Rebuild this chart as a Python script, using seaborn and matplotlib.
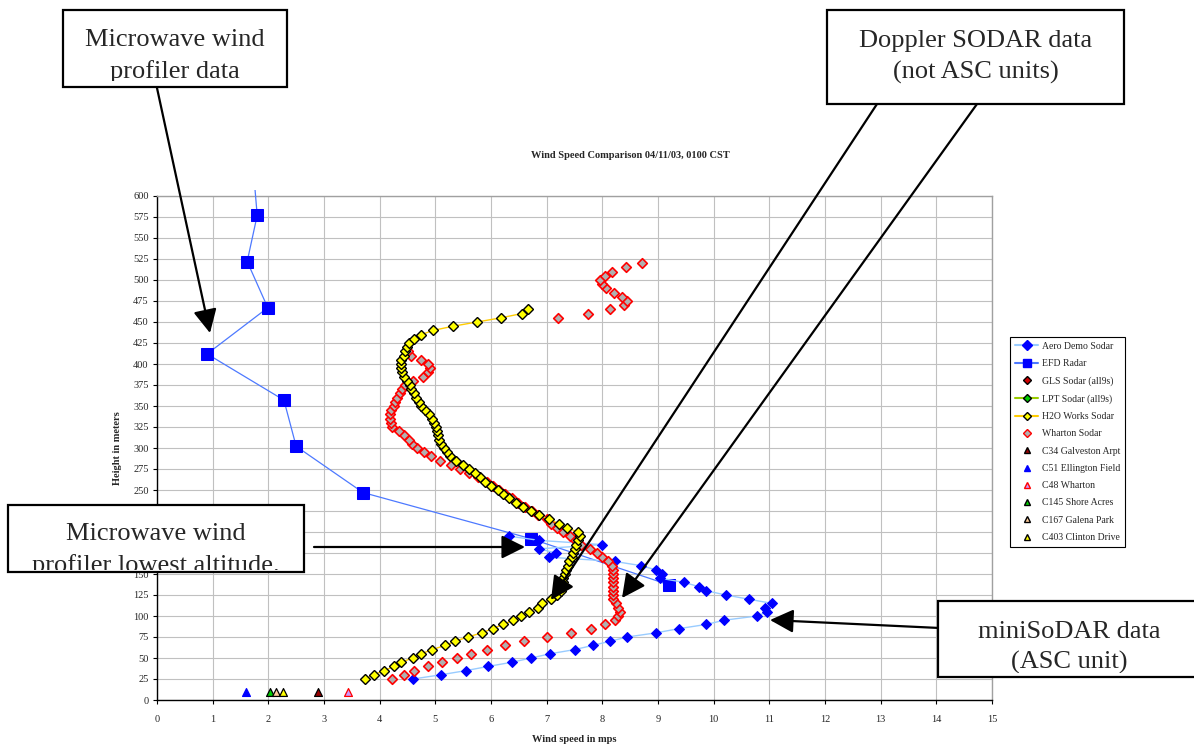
import seaborn as sns
import matplotlib.pyplot as plt
from matplotlib.lines import Line2D
from matplotlib.patches import Rectangle, FancyArrowPatch
from matplotlib.transforms import Bbox, TransformedBbox

W, H = 1194, 744

# Aero Demo Sodar (miniSoDAR, ASC unit)
aero_height = list(range(25, 200, 5))
aero_speed = [4.60, 5.10, 5.55, 5.95, 6.38, 6.72, 7.06, 7.50, 7.83, 8.14,
              8.45, 8.97, 9.38, 9.87, 10.19, 10.78, 10.96, 10.92, 11.05, 10.63,
              10.22, 9.87, 9.73, 9.47, 9.04, 9.08, 8.96, 8.69, 8.22, 7.04,
              7.16, 6.87, 8.00, 6.87, 6.33]

# EFD Radar (microwave wind profiler)
efd_height = [137, 192, 247, 302, 357, 412, 467, 522, 577, 632]
efd_speed = [9.20, 6.72, 3.70, 2.50, 2.28, 0.90, 1.99, 1.62, 1.80, 1.73]

# H2O Works Sodar
h2o_height = list(range(25, 470, 5))
h2o_speed = [3.74, 3.89, 4.08, 4.26, 4.39, 4.59, 4.75, 4.94, 5.18, 5.36,
             5.58, 5.84, 6.03, 6.22, 6.40, 6.54, 6.68, 6.84, 6.92, 7.07,
             7.18, 7.26, 7.28, 7.29, 7.30, 7.33, 7.35, 7.38, 7.41, 7.45,
             7.47, 7.50, 7.53, 7.57, 7.59, 7.56, 7.37, 7.22, 7.04, 6.87,
             6.72, 6.57, 6.45, 6.33, 6.22, 6.12, 6.00, 5.90, 5.81, 5.71,
             5.60, 5.50, 5.38, 5.27, 5.21, 5.15, 5.10, 5.07, 5.05, 5.03,
             5.01, 4.98, 4.94, 4.88, 4.81, 4.75, 4.71, 4.65, 4.62, 4.57,
             4.54, 4.49, 4.43, 4.41, 4.39, 4.38, 4.38, 4.43, 4.45, 4.49,
             4.53, 4.62, 4.75, 4.96, 5.32, 5.75, 6.18, 6.55, 6.66]

# Wharton Sodar
wharton_height = list(range(25, 420, 5)) + list(range(455, 525, 5))
wharton_speed = [4.23, 4.44, 4.61, 4.86, 5.12, 5.39, 5.64, 5.92, 6.26, 6.60,
                 7.00, 7.43, 7.79, 8.05, 8.22, 8.29, 8.32, 8.28, 8.24, 8.20,
                 8.19, 8.20, 8.20, 8.20, 8.20, 8.20, 8.19, 8.18, 8.11, 8.00,
                 7.90, 7.78, 7.62, 7.51, 7.42, 7.30, 7.18, 7.08, 7.00, 6.85,
                 6.74, 6.61, 6.49, 6.37, 6.25, 6.15, 6.04, 5.92, 5.77, 5.60,
                 5.44, 5.28, 5.08, 4.93, 4.79, 4.67, 4.58, 4.52, 4.43, 4.34,
                 4.23, 4.20, 4.19, 4.19, 4.21, 4.25, 4.28, 4.32, 4.36, 4.41,
                 4.45, 4.60, 4.77, 4.87, 4.91, 4.87, 4.74, 4.56, 4.50,
                 7.20, 7.74, 8.14, 8.39, 8.45, 8.36, 8.21, 8.07, 7.99, 7.96,
                 8.04, 8.17, 8.42, 8.71]

# surface stations (10 m)
station_names = ['C34 Galveston Arpt', 'C51 Ellington Field', 'C48 Wharton',
                 'C145 Shore Acres', 'C167 Galena Park', 'C403 Clinton Drive']
station_speed = [2.89, 1.60, 3.43, 2.03, 2.13, 2.27]
station_height = [10, 10, 10, 10, 10, 10]
station_face = ['#990000', '#0000FF', '#CC99FF', '#00CC00', '#FFCC99', '#FFFF00']
station_edge = ['black', '#0000FF', 'red', 'black', 'black', 'black']

sns.set_theme(style='white')
plt.rcParams['font.family'] = ['Liberation Serif', 'DejaVu Serif']

fig = plt.figure(figsize=(W / 100, H / 100), dpi=100)
fig.patch.set_facecolor('white')


def fx(x):
    return x / W


def fy(y):
    return 1 - y / H


ax = fig.add_axes([fx(157), fy(700), fx(992) - fx(157), fy(196) - fy(700)])

# EFD radar
sns.lineplot(x=efd_speed, y=efd_height, sort=False, estimator=None, ax=ax,
             color='#4D79FF', lw=0.9, marker='s', markersize=8.5,
             markerfacecolor='#0000FF', markeredgecolor='#0000FF', zorder=3)
efd_line = ax.lines[-1]
efd_line.set_clip_box(TransformedBbox(Bbox([[0, 0], [1, 1.012]]), ax.transAxes))

# Aero demo sodar
sns.lineplot(x=aero_speed, y=aero_height, sort=False, estimator=None, ax=ax,
             color='#99CCFF', lw=1.0, marker='D', markersize=5.5,
             markerfacecolor='#0000FF', markeredgecolor='#0000FF', zorder=3)

# Wharton sodar
sns.scatterplot(x=wharton_speed, y=wharton_height, ax=ax, marker='D', s=24,
                color='#B0B0B0', edgecolor='#FF0000', linewidth=1.2, zorder=4)

# H2O works sodar
sns.lineplot(x=h2o_speed, y=h2o_height, sort=False, estimator=None, ax=ax,
             color='#FFCC00', lw=1.0, marker='D', markersize=5.2,
             markerfacecolor='#FFFF00', markeredgecolor='black',
             markeredgewidth=1.0, zorder=5)

# surface stations
for i in range(len(station_names)):
    sns.scatterplot(x=[station_speed[i]], y=[station_height[i]], ax=ax, marker='^',
                    s=32, color=station_face[i], edgecolor=station_edge[i],
                    linewidth=0.9, zorder=5)

ax.set_xlim(0, 15)
ax.set_ylim(0, 600)
ax.set_xticks(range(0, 16))
ax.set_yticks(range(0, 625, 25))
ax.grid(True, color='#C0C0C0', lw=0.8)
ax.set_axisbelow(True)
for side in ['top', 'right']:
    ax.spines[side].set_color('#A0A0A0')
    ax.spines[side].set_linewidth(1.0)
for side in ['left', 'bottom']:
    ax.spines[side].set_color('black')
    ax.spines[side].set_linewidth(1.0)
ax.tick_params(axis='both', direction='out', length=3, width=0.8, color='black',
               labelsize=7.5, left=True, bottom=True)
ax.tick_params(axis='x', pad=8)
ax.tick_params(axis='y', pad=3)

ax.set_xlabel('Wind speed in mps', fontsize=7.5, fontweight='bold')
ax.set_ylabel('Height in meters', fontsize=7.5, fontweight='bold')
ax.xaxis.set_label_coords(0.5, (700 - 735) / 504)
ax.yaxis.set_label_coords((122 - 157) / 835, 0.5)

fig.text(fx(630), fy(155), 'Wind Speed Comparison 04/11/03, 0100 CST',
         ha='center', va='center', fontsize=7.5, fontweight='bold')

# legend
handles = [
    Line2D([], [], color='#99CCFF', marker='D', mfc='#0000FF', mec='#0000FF', ms=5),
    Line2D([], [], color='#4D79FF', marker='s', mfc='#0000FF', mec='#0000FF', ms=6),
    Line2D([], [], ls='none', marker='D', mfc='#CC0000', mec='black', ms=4.5),
    Line2D([], [], color='#99CC00', marker='D', mfc='#00CC00', mec='black', ms=4.5),
    Line2D([], [], color='#FFCC00', marker='D', mfc='#FFFF00', mec='black', ms=4.5),
    Line2D([], [], ls='none', marker='D', mfc='#B0B0B0', mec='red', ms=4.5),
]
labels = ['Aero Demo Sodar', 'EFD Radar', 'GLS Sodar (all9s)', 'LPT Sodar (all9s)',
          'H2O Works Sodar', 'Wharton Sodar']
for i in range(len(station_names)):
    handles.append(Line2D([], [], ls='none', marker='^', mfc=station_face[i],
                          mec=station_edge[i], ms=5))
    labels.append(station_names[i])

leg = fig.legend(handles, labels, loc='upper left',
                 bbox_to_anchor=(fx(1010), fy(337)), bbox_transform=fig.transFigure,
                 fontsize=7.0, frameon=True, fancybox=False, framealpha=1,
                 edgecolor='black', borderaxespad=0, borderpad=0.5,
                 labelspacing=0.85, handlelength=2.4, handletextpad=0.4)
leg.get_frame().set_linewidth(0.8)


# callout boxes (text is cut at the inner margin, as in the original)
def text_box(x0, y0, x1, y1, lines, inset):
    rect = Rectangle((fx(x0), fy(y1)), fx(x1) - fx(x0), fy(y0) - fy(y1),
                     transform=fig.transFigure, facecolor='white',
                     edgecolor='black', lw=1.6, zorder=10)
    fig.add_artist(rect)
    clip = TransformedBbox(Bbox([[fx(x0), fy(y1 - inset)], [fx(x1), fy(y0)]]),
                           fig.transFigure)
    for txt, yb in lines:
        t = fig.text(fx((x0 + x1) / 2), fy(yb), txt, ha='center', va='baseline',
                     fontsize=19, zorder=11)
        t.set_clip_box(clip)
        t.set_clip_on(True)


def arrow(x0, y0, x1, y1):
    a = FancyArrowPatch((fx(x0), fy(y0)), (fx(x1), fy(y1)), transform=fig.transFigure,
                        arrowstyle='-|>', mutation_scale=36, lw=1.6, color='black',
                        shrinkA=0, shrinkB=0, zorder=9)
    fig.add_artist(a)


arrow(157, 88, 210, 333)
arrow(877, 104, 551, 600)
arrow(977, 104, 622, 598)
arrow(314, 547, 525, 547)
arrow(1194, 640, 770, 620)

text_box(63, 10, 287, 87, [('Microwave wind', 46), ('profiler data', 78)], 6)
text_box(827, 10, 1124, 104, [('Doppler SODAR data', 47), ('(not ASC units)', 79)], 0)
text_box(8, 505, 304, 572, [('Microwave wind', 540), ('profiler lowest altitude.', 572)], 2)
text_box(938, 601, 1200, 677, [('miniSoDAR data', 638), ('(ASC unit)', 669)], 4)

fig.savefig('out.png', dpi=100)
